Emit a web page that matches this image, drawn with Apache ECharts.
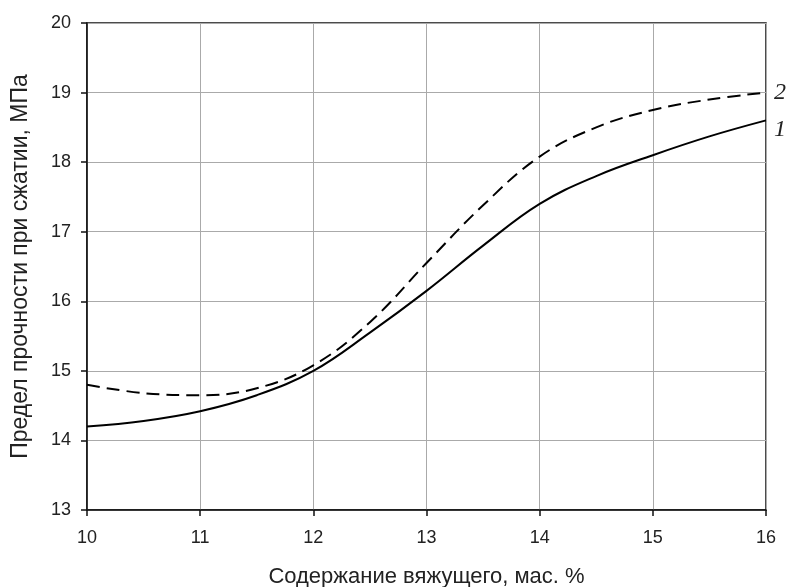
<!DOCTYPE html>
<html>
<head>
<meta charset="utf-8">
<script src="https://cdn.jsdelivr.net/npm/echarts@6/dist/echarts.min.js"></script>
<style>
  html, body { margin: 0; padding: 0; background: #fff; }
  #chart { width: 787px; height: 587px; }
</style>
</head>
<body>
<div id="chart"></div>
<script>
// содержание вяжущего, мас. %
const xVals = [10, 10.5, 11, 11.5, 12, 12.5, 13, 13.5, 14, 14.5, 15, 15.5, 16]
// кривая 1 (сплошная)
const curve1 = [14.2, 14.28, 14.42, 14.65, 15.0, 15.55, 16.15, 16.8, 17.4, 17.8, 18.1, 18.37, 18.6]
// кривая 2 (пунктир)
const curve2 = [14.8, 14.68, 14.65, 14.75, 15.08, 15.7, 16.55, 17.38, 18.08, 18.5, 18.75, 18.9, 19.0]

const pairs = (ys) => xVals.map((x, i) => [x, ys[i]])

let chart = echarts.init(document.getElementById('chart'))
let axisFont = { fontFamily: 'Liberation Sans, Arial', fontSize: 18, color: '#222' }
let option = {
  animation: false,
  backgroundColor: '#fff',
  grid: {
    left: 87, right: 21, top: 23, bottom: 77,
    outerBoundsMode: 'none',
    show: true, borderColor: '#111', borderWidth: 1.5
  },
  xAxis: {
    type: 'value', min: 10, max: 16, interval: 1,
    name: 'Содержание вяжущего, мас. %',
    nameLocation: 'middle', nameGap: 56,
    nameTextStyle: { fontFamily: 'Liberation Sans, Arial', fontSize: 22, color: '#222' },
    axisLine: { show: true, lineStyle: { color: '#111', width: 1.5 } },
    axisTick: { show: true, length: 6, lineStyle: { color: '#111', width: 1.5 } },
    axisLabel: Object.assign({ margin: 19 }, axisFont),
    splitLine: { show: true, lineStyle: { color: '#aaa', width: 1 } }
  },
  yAxis: {
    type: 'value', min: 13, max: 20, interval: 1,
    name: 'Предел прочности при сжатии, МПа',
    nameLocation: 'middle', nameGap: 55,
    nameTextStyle: { fontFamily: 'Liberation Sans, Arial', fontSize: 23, color: '#222' },
    axisLine: { show: true, lineStyle: { color: '#111', width: 1.5 } },
    axisTick: { show: true, length: 6, lineStyle: { color: '#111', width: 1.5 } },
    axisLabel: Object.assign({ margin: 16 }, axisFont),
    splitLine: { show: true, lineStyle: { color: '#aaa', width: 1 } }
  },
  series: [
    {
      name: '1', type: 'line', smooth: 0.4, showSymbol: false,
      data: pairs(curve1),
      lineStyle: { color: '#000', width: 2 },
      endLabel: {
        show: true, formatter: '1', offset: [0, 9],
        fontFamily: 'Liberation Serif, Times New Roman', fontStyle: 'italic',
        fontSize: 24, color: '#222'
      }
    },
    {
      name: '2', type: 'line', smooth: 0.4, showSymbol: false,
      data: pairs(curve2),
      lineStyle: { color: '#000', width: 2, type: [13, 7] },
      endLabel: {
        show: true, formatter: '2', offset: [0, 0],
        fontFamily: 'Liberation Serif, Times New Roman', fontStyle: 'italic',
        fontSize: 24, color: '#222'
      }
    }
  ]
}
chart.setOption(option)
</script>
</body>
</html>
